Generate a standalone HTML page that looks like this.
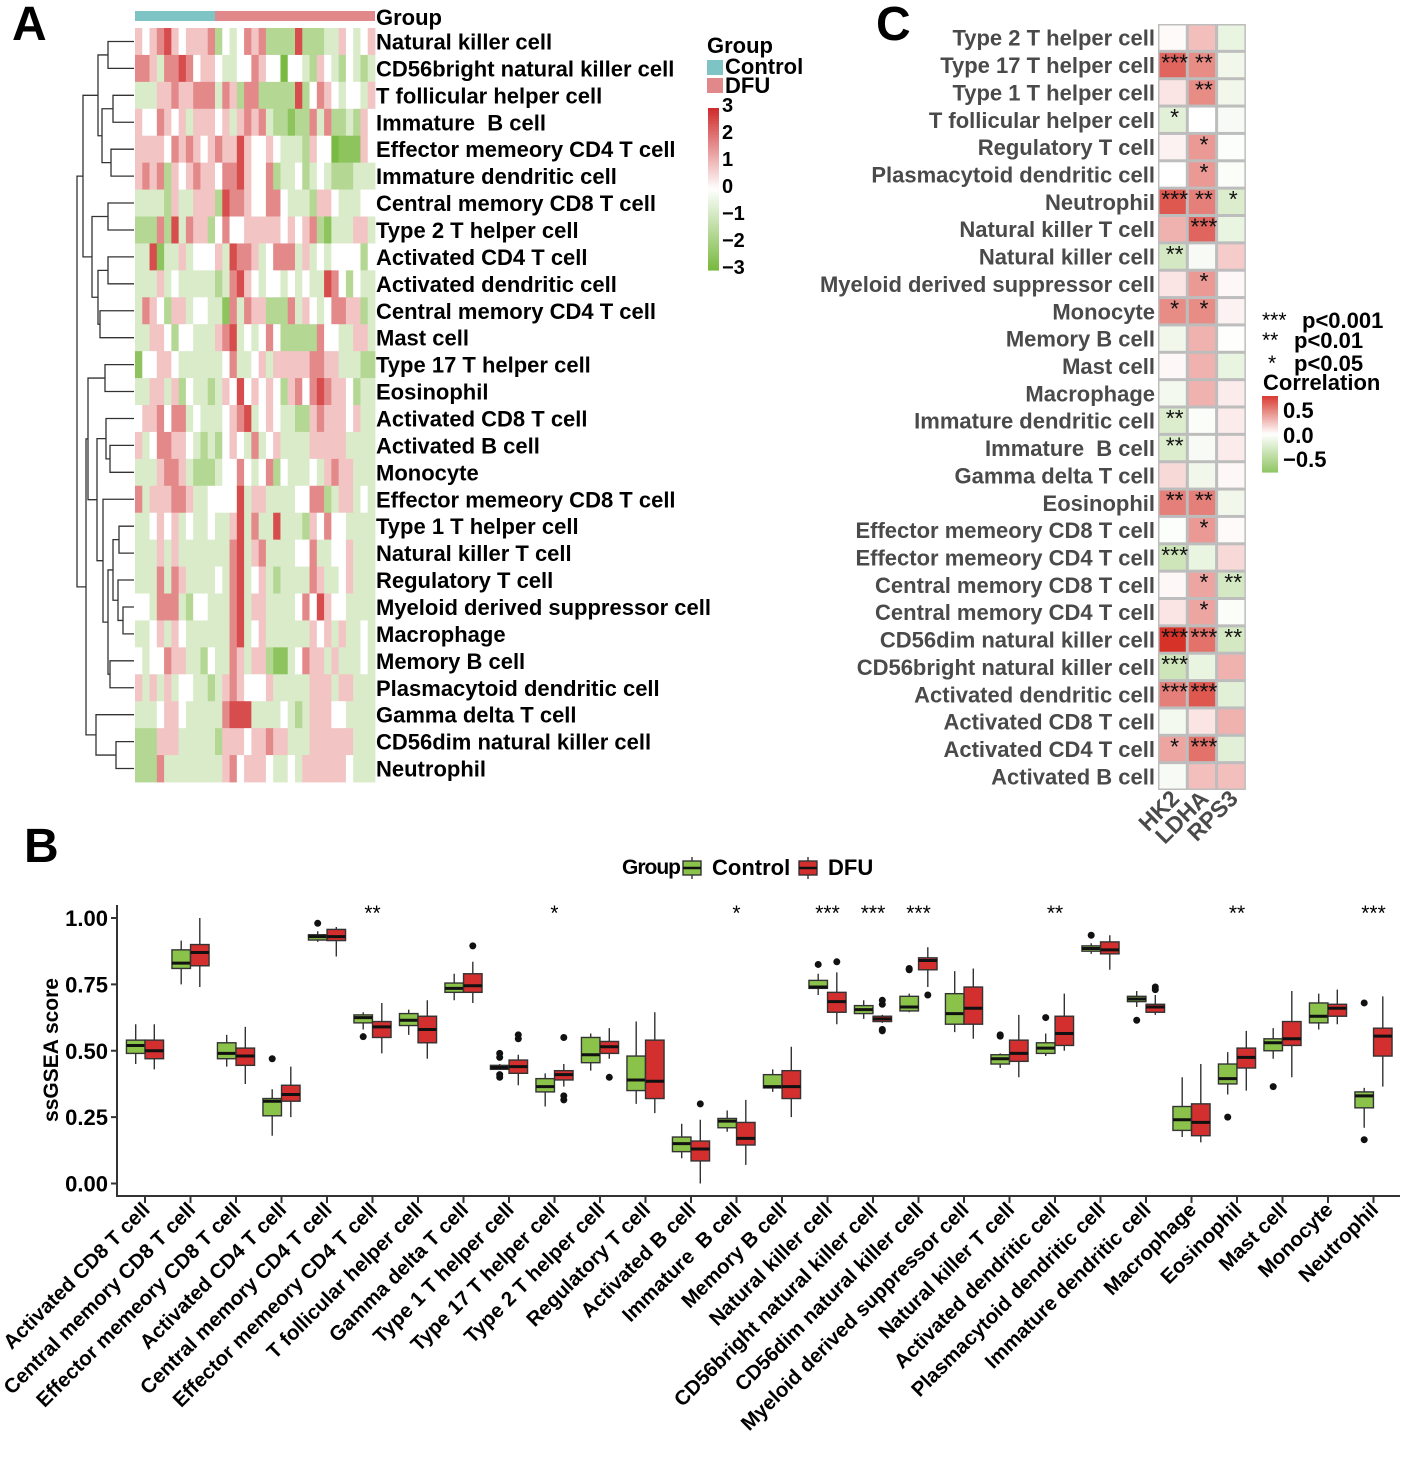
<!DOCTYPE html>
<html><head><meta charset="utf-8"><style>
html,body{margin:0;padding:0;background:#fff;}
svg{display:block;font-family:"Liberation Sans",Arial,sans-serif;font-weight:bold;}
</style></head><body>
<svg id="fig" width="1405" height="1478" viewBox="0 0 1405 1478" xmlns="http://www.w3.org/2000/svg">
<text x="12" y="40" font-size="48">A</text>
<text x="876" y="40" font-size="48">C</text>
<text x="24" y="862" font-size="48">B</text>
<g id="pa"></g>
<g id="pc"></g>
<g id="pb"></g>
</svg>
<script>
const NS="http://www.w3.org/2000/svg";
function mk(parent,tag,attrs,text){const e=document.createElementNS(NS,tag);for(const k in attrs)e.setAttribute(k,attrs[k]);if(text!==undefined)e.textContent=text;parent.appendChild(e);return e;}
function mix(c1,c2,t){return 'rgb('+c1.map((v,i)=>Math.round(v+(c2[i]-v)*t)).join(',')+')';}
const IB="Immature\u00a0 B cell";

/* ---------- Panel A data ---------- */
const heatRows=["Natural killer cell","CD56bright natural killer cell","T follicular helper cell",IB,"Effector memeory CD4 T cell","Immature dendritic cell","Central memory CD8 T cell","Type 2 T helper cell","Activated CD4 T cell","Activated dendritic cell","Central memory CD4 T cell","Mast cell","Type 17 T helper cell","Eosinophil","Activated CD8 T cell","Activated B cell","Monocyte","Effector memeory CD8 T cell","Type 1 T helper cell","Natural killer T cell","Regulatory T cell","Myeloid derived suppressor cell","Macrophage","Memory B cell","Plasmacytoid dendritic cell","Gamma delta T cell","CD56dim natural killer cell","Neutrophil"];
const heatLevels=[
"656786566673545767333383334465456","776477875665445576550554365435434","444667667774763773333383576545546","655765646665646767433233747334365",
"666657676567668655654443655122265","676736567665778655734453454333444","444436446663877655775444366544455","333738476635755666665656732444664",
"448244645556487764577746454555535","444645444443478654554545448753544","476536645544274766333746545776634","446653554446784545753333375544664",
"255665444444574456466666776644433","446646354434658565653675787665344","566757745444567845654433676665644","645776654343565474564444666664444",
"444677643334557545735444546766444","746667764455558466444455773466454","445656454454468474484443657554444","444646444444478467444455744556444",
"444747644445478456434444764456444","554777435544478466444457586554444","445646544444478456444444656464454","545576644354476466322457664644454",
"646464554434676555644444666466444","444566544444788844445434666554444","333666444443666566766444666666444","333744444444675666544546666665444"];
const nControl=11;
const heatTicks=[3,2,1,0,-1,-2,-3];

/* ---------- Panel C data ---------- */
const corrRows=["Type 2 T helper cell","Type 17 T helper cell","Type 1 T helper cell","T follicular helper cell","Regulatory T cell","Plasmacytoid dendritic cell","Neutrophil","Natural killer T cell","Natural killer cell","Myeloid derived suppressor cell","Monocyte","Memory B cell","Mast cell","Macrophage","Immature dendritic cell",IB,"Gamma delta T cell","Eosinophil","Effector memeory CD8 T cell","Effector memeory CD4 T cell","Central memory CD8 T cell","Central memory CD4 T cell","CD56dim natural killer cell","CD56bright natural killer cell","Activated dendritic cell","Activated CD8 T cell","Activated CD4 T cell","Activated B cell"];
const corrGenes=["HK2","LDHA","RPS3"];
const corrHK2=[0.02,0.6,0.1,-0.2,0.05,0,0.65,0.3,-0.3,0.1,0.45,-0.1,0.03,-0.08,-0.25,-0.25,0.15,0.5,-0.02,-0.35,0.03,0.1,0.85,-0.35,0.5,-0.08,0.35,-0.05];
const corrLDHA=[0.25,0.45,0.45,0,0.4,0.4,0.5,0.6,-0.05,0.4,0.45,0.3,0.3,0.3,-0.03,-0.05,-0.1,0.5,0.4,-0.15,0.35,0.35,0.55,-0.15,0.65,0.1,0.55,0.25];
const corrRPS3=[-0.15,-0.1,-0.1,-0.05,-0.02,-0.03,-0.25,-0.15,0.2,0.03,0.05,-0.01,-0.15,0.08,0.08,0.08,0.03,-0.1,0.02,0.15,-0.3,-0.03,-0.3,0.3,-0.2,0.3,-0.2,0.25];
const starsHK2=["","***","","*","","","***","","**","","*","","","","**","**","","**","","***","","","***","***","***","","*",""];
const starsLDHA=["","**","**","","*","*","**","***","","*","*","","","","","","","**","*","","*","*","***","","***","","***",""];
const starsRPS3=["","","","","","","*","","","","","","","","","","","","","","**","","**","","","","",""];

/* ---------- Panel B data ---------- */
const boxCats=["Activated CD8 T cell","Central memory CD8 T cell","Effector memeory CD8 T cell","Activated CD4 T cell","Central memory CD4 T cell","Effector memeory CD4 T cell","T follicular helper cell","Gamma delta T cell","Type 1 T helper cell","Type 17 T helper cell","Type 2 T helper cell","Regulatory T cell","Activated B cell",IB,"Memory B cell","Natural killer cell","CD56bright natural killer cell","CD56dim natural killer cell","Myeloid derived suppressor cell","Natural killer T cell","Activated dendritic cell","Plasmacytoid dendritic cell","Immature dendritic cell","Macrophage","Eosinophil","Mast cell","Monocyte","Neutrophil"];
// [low, q1, median, q3, high]
const ctrlStats=[[0.45,0.49,0.52,0.54,0.60],[0.75,0.81,0.83,0.88,0.915],[0.44,0.47,0.49,0.53,0.56],[0.18,0.255,0.31,0.32,0.355],[0.91,0.917,0.93,0.937,0.95],[0.58,0.605,0.625,0.635,0.645],[0.56,0.595,0.615,0.64,0.655],[0.69,0.72,0.735,0.755,0.79],[0.43,0.43,0.437,0.445,0.45],[0.29,0.345,0.365,0.395,0.415],[0.425,0.455,0.485,0.55,0.565],[0.30,0.35,0.39,0.48,0.61],[0.095,0.12,0.15,0.175,0.225],[0.195,0.21,0.235,0.245,0.275],[0.345,0.36,0.365,0.41,0.43],[0.71,0.735,0.74,0.765,0.79],[0.62,0.64,0.655,0.67,0.69],[0.645,0.65,0.665,0.705,0.715],[0.57,0.60,0.64,0.715,0.80],[0.435,0.45,0.47,0.485,0.49],[0.48,0.49,0.51,0.53,0.565],[0.865,0.875,0.885,0.895,0.905],[0.665,0.685,0.695,0.705,0.725],[0.175,0.20,0.24,0.29,0.40],[0.335,0.375,0.395,0.45,0.495],[0.47,0.50,0.53,0.545,0.585],[0.58,0.605,0.63,0.68,0.715],[0.21,0.285,0.33,0.345,0.36]];
const dfuStats=[[0.43,0.47,0.50,0.54,0.60],[0.74,0.82,0.87,0.90,1.0],[0.375,0.445,0.48,0.51,0.59],[0.25,0.31,0.335,0.37,0.44],[0.855,0.915,0.93,0.957,0.966],[0.49,0.55,0.59,0.61,0.68],[0.47,0.53,0.58,0.63,0.69],[0.68,0.72,0.745,0.79,0.835],[0.37,0.415,0.44,0.465,0.485],[0.365,0.39,0.41,0.425,0.45],[0.47,0.49,0.515,0.535,0.585],[0.265,0.32,0.385,0.54,0.645],[0.0,0.085,0.13,0.16,0.24],[0.07,0.145,0.17,0.23,0.315],[0.25,0.32,0.365,0.425,0.515],[0.60,0.645,0.685,0.72,0.795],[0.605,0.61,0.62,0.63,0.635],[0.74,0.805,0.84,0.85,0.89],[0.545,0.60,0.66,0.74,0.81],[0.40,0.46,0.49,0.54,0.635],[0.50,0.52,0.565,0.63,0.715],[0.805,0.865,0.88,0.91,0.935],[0.635,0.645,0.665,0.675,0.71],[0.155,0.18,0.23,0.30,0.45],[0.35,0.435,0.475,0.51,0.575],[0.40,0.52,0.545,0.61,0.725],[0.60,0.63,0.66,0.675,0.73],[0.365,0.48,0.555,0.585,0.705]];
const ctrlOut=[[],[],[],[0.47],[0.98],[0.553],[],[],[0.40,0.41,0.475,0.49],[],[],[],[],[],[],[0.825],[],[0.81,0.805],[],[0.555,0.56],[0.625],[0.935],[0.615],[],[0.25],[0.365],[],[0.165,0.68]];
const dfuOut=[[],[],[],[],[],[],[],[0.895],[0.545,0.56],[0.55,0.315,0.33],[0.40],[],[0.30],[],[],[0.835],[0.575,0.58,0.675,0.69],[0.71],[],[],[],[],[0.74,0.73],[],[],[],[],[]];
const sigLabels=["","","","","","**","","","","*","","","","*","","***","***","***","","","**","","","","**","","","***"];
const yTicks=[0,0.25,0.5,0.75,1.0];

/* ================= Panel A ================= */
(function(){
  const g=document.getElementById('pa');
  const x0=135,x1=375,y0=28,y1=782,nR=heatRows.length,nC=33;
  const cw=(x1-x0)/nC,rh=(y1-y0)/nR;
  const RED=[208,46,46],GRN=[122,186,66],WH=[255,255,255];
  const col=v=>{const t=Math.max(-1,Math.min(1,v/3));return t>=0?mix(WH,RED,t):mix(WH,GRN,-t);};
  let a=mk(g,'rect',{x:x0,y:11,width:nControl*cw,height:10,fill:'#7ec4c4'});
  
  a=mk(g,'rect',{x:x0+nControl*cw,y:11,width:(nC-nControl)*cw,height:10,fill:'#e0888a'});
  
  let t=mk(g,'text',{x:376,y:25,'font-size':22},'Group');
  
  heatLevels.forEach((s,r)=>{
    for(let c=0;c<nC;c++){
      const d=parseInt(s[c%s.length])-5;
      const e=mk(g,'rect',{x:x0+c*cw,y:y0+r*rh,width:cw+0.4,height:rh+0.4,fill:col(d*0.85)});
      
    }
    const l=mk(g,'text',{x:376,y:y0+(r+0.5)*rh+8,'font-size':22},heatRows[r]);
    
  });
  const tree=[[[[[1,2,108],[[3,4,113],[5,6,111],102],98],[[7,8,108],[[9,10,108],[11,12,100],98],92],83],
    [[[13,14,105],[[15,[16,17,110],106],[18,[[[19,20,119],[21,[22,23,123],118],113],[24,25,110],108],103],97],88],[26,[27,28,116],96],86],77],70];
  const yc=i=>y0+(i-0.5)*rh;
  const dg=mk(g,'g',{stroke:'#333','stroke-width':1.3,fill:'none'});
  
  function draw(n){
    if(typeof n==='number')return [yc(n),x0-1];
    const A=draw(n[0]),B=draw(n[1]),x=n[2];
    mk(dg,'path',{d:`M${A[1]},${A[0]}H${x}V${B[0]}H${B[1]}`});
    return [(A[0]+B[0])/2,x];
  }
  draw(tree);
  t=mk(g,'text',{x:707,y:53,'font-size':22},'Group');
  a=mk(g,'rect',{x:707,y:60,width:16,height:15,fill:'#7ec4c4'});
  a=mk(g,'rect',{x:707,y:78,width:16,height:15,fill:'#e0888a'});
  t=mk(g,'text',{x:725,y:74,'font-size':22},'Control');
  t=mk(g,'text',{x:725,y:93,'font-size':22},'DFU');
  const cb0=108,cb1=270;
  for(let i=0;i<60;i++){
    const v=3-6*i/59;
    const e=mk(g,'rect',{x:708,y:cb0+(cb1-cb0)*i/60,width:11,height:(cb1-cb0)/60+0.6,fill:col(v)});
    
  }
  heatTicks.forEach(v=>{
    const y=cb0+(cb1-cb0)*(3-v)/6;
    const e=mk(g,'text',{x:722,y:y+4,'font-size':20},v<0?'\u2212'+(-v):String(v));
    
  });
})();

/* ================= Panel C ================= */
(function(){
  const g=document.getElementById('pc');
  const x0=1158,y0=24,cw=29.3,rh=(790-24)/corrRows.length;
  const RED=[214,50,40],GRN=[140,196,95],WH=[255,255,255];
  const col=v=>{const t=Math.max(-1,Math.min(1,v/0.8));return t>=0?mix(WH,RED,t):mix(WH,GRN,-t);};
  mk(g,'rect',{x:x0,y:y0,width:cw*3,height:rh*corrRows.length,fill:'#bdbdbd'});
  const vals=[corrHK2,corrLDHA,corrRPS3],stars=[starsHK2,starsLDHA,starsRPS3];
  corrRows.forEach((name,r)=>{
    for(let c=0;c<3;c++){
      const e=mk(g,'rect',{x:x0+c*cw+1.5,y:y0+r*rh+1.5,width:cw-3,height:rh-3,fill:col(vals[c][r])});
      
      if(stars[c][r]){
        const s=mk(g,'text',{x:x0+(c+0.5)*cw+2,y:y0+r*rh+19,'font-size':23,'text-anchor':'middle',fill:'#111','font-weight':'normal'},stars[c][r]);
        
      }
    }
    const l=mk(g,'text',{x:1155,y:y0+(r+0.5)*rh+8,'font-size':22,'text-anchor':'end',fill:'#4a4a4a'},name);
    
  });
  corrGenes.forEach((gn,c)=>{
    const x=x0+(c+0.5)*cw+8,y=800;
    const e=mk(g,'text',{x:x,y:y,'font-size':23,'text-anchor':'end',fill:'#4a4a4a',transform:`rotate(-45 ${x} ${y})`},gn);
    
  });
  const leg=[['***','p<0.001',325],['**','p<0.01',345],['*','p<0.05',368]];
  leg.forEach(([s,p,y],i)=>{
    let e=mk(g,'text',{x:1262+(i==2?6:0),y:y+2,'font-size':21,'font-weight':'normal'},s);
    e=mk(g,'text',{x:i==0?1302:1294,y:y+3,'font-size':22},p);
  });
  let e=mk(g,'text',{x:1263,y:390,'font-size':22},'Correlation');
  const cb0=396,cb1=472;
  for(let i=0;i<40;i++){
    const v=0.75-1.5*i/39;
    const r=mk(g,'rect',{x:1262,y:cb0+(cb1-cb0)*i/40,width:16,height:(cb1-cb0)/40+0.6,fill:col(v)});
    
  }
  [['0.5',418],['0.0',443],['\u22120.5',467]].forEach(([s,y])=>{
    const r=mk(g,'text',{x:1283,y:y,'font-size':22},s);
  });
})();

/* ================= Panel B ================= */
(function(){
  const g=document.getElementById('pb');
  const Y=v=>1183.5-265.5*v;
  const X=i=>145+i*45.5;
  const GF='#8bc34a',RF='#d32f2f';
  let e=mk(g,'path',{d:'M117,905V1196H1400',stroke:'#333','stroke-width':2,fill:'none'});
  
  yTicks.forEach(v=>{
    mk(g,'path',{d:`M111,${Y(v)}H117`,stroke:'#333','stroke-width':2});
    const t=mk(g,'text',{x:108,y:Y(v)+8,'font-size':22,'text-anchor':'end'},v.toFixed(2));
    
  });
  e=mk(g,'text',{x:58,y:1050,'font-size':21,'text-anchor':'middle',transform:'rotate(-90 58 1050)'},'ssGSEA score');
  
  function box(cx,st,out,fill,nm){
    const w=18.5,bx=cx-w/2;
    const gg=mk(g,'g',{});
    
    mk(gg,'path',{d:`M${cx},${Y(st[0])}V${Y(st[1])}M${cx},${Y(st[3])}V${Y(st[4])}`,stroke:'#333','stroke-width':1.4});
    mk(gg,'rect',{x:bx,y:Y(st[3]),width:w,height:Math.max(1,Y(st[1])-Y(st[3])),fill:fill,stroke:'#333','stroke-width':1.4});
    mk(gg,'path',{d:`M${bx},${Y(st[2])}H${bx+w}`,stroke:'#111','stroke-width':3});
    out.forEach(o=>mk(gg,'circle',{cx:cx,cy:Y(o),r:3.5,fill:'#111'}));
  }
  boxCats.forEach((name,i)=>{
    const cx=X(i);
    box(cx-9.3,ctrlStats[i],ctrlOut[i],GF,'box-control');
    box(cx+9.3,dfuStats[i],dfuOut[i],RF,'box-dfu');
    mk(g,'path',{d:`M${cx},1196V1203`,stroke:'#333','stroke-width':2});
    const lx=cx+6,ly=1211;
    const t=mk(g,'text',{x:lx,y:ly,'font-size':20.5,'text-anchor':'end',transform:`rotate(-45 ${lx} ${ly})`},name);
    
    if(sigLabels[i]){
      const s=mk(g,'text',{x:cx,y:920,'font-size':21,'text-anchor':'middle','font-weight':'normal'},sigLabels[i]);
      
    }
  });
  e=mk(g,'text',{x:622,y:874,'font-size':21,'letter-spacing':'-1'},'Group');
  const lg=(x,f,lab,nm)=>{
    const gg=mk(g,'g',{});
    mk(gg,'path',{d:`M${x+9},857V879`,stroke:'#333','stroke-width':1.4});
    mk(gg,'rect',{x:x,y:861,width:18,height:14,fill:f,stroke:'#333','stroke-width':1.4});
    mk(gg,'path',{d:`M${x},868H${x+18}`,stroke:'#111','stroke-width':2.5});
    mk(gg,'text',{x:x+29,y:875,'font-size':22},lab);
  };
  lg(683,GF,'Control','legend-entry-control');
  lg(799,RF,'DFU','legend-entry-dfu');
})();
</script>
</body></html>
